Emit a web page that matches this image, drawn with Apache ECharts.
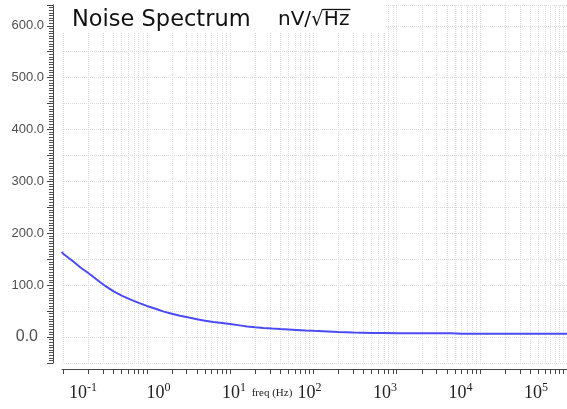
<!DOCTYPE html>
<html>
<head>
<meta charset="utf-8">
<script src="https://cdn.jsdelivr.net/npm/echarts@6/dist/echarts.min.js"></script>
<style>
html,body{margin:0;padding:0;background:#fff;}
#chart{width:567px;height:409px;}
</style>
</head>
<body>
<div id="chart"></div>
<script>
// ---- data ----
var freqHz = [0.095, 0.1, 0.13, 0.16, 0.2, 0.25, 0.32, 0.4, 0.5, 0.63, 0.8, 1, 1.3, 1.6, 2, 2.5, 3.2, 4, 5, 6.3, 8, 10, 13, 16, 20, 25, 32, 40, 50, 63, 80, 100, 150, 200, 300, 500, 700, 1000, 1500, 2000, 3000, 4500, 6000, 10000, 20000, 50000, 100000, 120000];
var noiseValues = [164, 160, 146, 134, 123, 111, 98, 88, 80, 72.5, 66, 60, 54, 49, 45, 41, 37.5, 34.5, 31.5, 29, 27, 25, 22.5, 20.5, 18.9, 17.6, 16.4, 15.5, 14.7, 13.8, 12.8, 12, 10.8, 9.8, 8.6, 7.9, 7.6, 7.2, 7.4, 7.3, 7.5, 7.4, 6.5, 6.4, 6.3, 6.3, 6.3, 6.3];
var decadeExponents = [-1, 0, 1, 2, 3, 4, 5];
var minorMultipliers = [1, 2, 3, 4, 5, 6, 7, 8, 9];
var yLabelValues = [0, 100, 200, 300, 400, 500, 600];
var titleText = 'Noise Spectrum';
var unitPrefix = 'nV/\u221A';
var unitRadicand = 'Hz';
var xAxisName = 'freq (Hz)';

// ---- derived ----
var seriesData = freqHz.map(function (f, i) { return [Math.log10(f), noiseValues[i]]; });
var tickValues = [];
decadeExponents.forEach(function (e) {
  minorMultipliers.forEach(function (m) {
    tickValues.push(Math.log10(m) + e);
  });
});

// measure unit text for the radical's overline
var unitFont = '20px "DejaVu Sans"';
var mctx = document.createElement('canvas').getContext('2d');
mctx.font = unitFont;
var unitX = 278;
var prefixW = mctx.measureText(unitPrefix).width;
var radW = mctx.measureText(unitRadicand).width;

var chart = echarts.init(document.getElementById('chart'), null, {renderer: 'canvas'});
var option = {
  backgroundColor: '#ffffff',
  animation: false,
  grid: {left: 62, right: 0, top: 5, bottom: 46, containLabel: false},
  xAxis: [{
    type: 'value',
    min: -1.018,
    max: 5.044,
    position: 'bottom',
    offset: 6,
    axisLine: {show: true, onZero: false, lineStyle: {color: '#444', width: 1}},
    axisTick: {show: true, length: 5, customValues: tickValues, lineStyle: {color: '#444'}},
    axisLabel: {show: false},
    splitLine: {show: true, lineStyle: {color: '#dcdcdc', type: 'dotted', width: 1}}
  }, {
    type: 'value',
    min: -1.278,
    max: 5.411,
    position: 'bottom',
    offset: 6,
    axisLine: {show: false, onZero: false},
    axisTick: {show: false},
    splitLine: {show: false},
    axisLabel: {
      show: true,
      customValues: decadeExponents,
      margin: 13,
      formatter: function (v) { return '{b|10}{s|' + Math.round(v) + '}'; },
      rich: {
        b: {fontFamily: 'Liberation Serif', fontSize: 18, color: '#222', lineHeight: 20, verticalAlign: 'bottom'},
        s: {fontFamily: 'Liberation Serif', fontSize: 12, color: '#222', lineHeight: 20, verticalAlign: 'top', padding: [0, 0, 8, 0]}
      }
    }
  }],
  yAxis: {
    type: 'value',
    min: -50,
    max: 640,
    interval: 50,
    position: 'left',
    offset: 9,
    axisLine: {show: true, onZero: false, lineStyle: {color: '#444', width: 1}},
    axisTick: {show: true, length: 6, lineStyle: {color: '#444'}},
    minorTick: {show: true, splitNumber: 10, length: 4, lineStyle: {color: '#555'}},
    splitLine: {show: true, lineStyle: {color: '#dcdcdc', type: 'dotted', width: 1}},
    axisLabel: {
      margin: 9,
      color: '#4f4f4f',
      fontFamily: 'Liberation Sans',
      fontSize: 13,
      formatter: function (v) {
        if (yLabelValues.indexOf(v) < 0) return '';
        if (v === 0) return '{z|0.0}';
        return v.toFixed(1);
      },
      rich: {
        z: {fontFamily: 'Liberation Sans', fontSize: 16, color: '#4f4f4f', padding: [0, 6, 0, 0]}
      }
    }
  },
  graphic: [
    {type: 'rect', z: 50, shape: {x: 62, y: 0, width: 323, height: 33}, style: {fill: '#ffffff'}},
    {type: 'text', z: 51, x: 72, y: 20, style: {text: titleText, fontFamily: 'DejaVu Sans', fontSize: 22.5, fill: '#111', textVerticalAlign: 'middle'}},
    {type: 'text', z: 51, x: unitX, y: 20, style: {text: unitPrefix + unitRadicand, fontFamily: 'DejaVu Sans', fontSize: 20, fill: '#111', textVerticalAlign: 'middle'}},
    {type: 'line', z: 51, shape: {x1: unitX + prefixW - 1, y1: 9.5, x2: unitX + prefixW + radW + 1, y2: 9.5}, style: {stroke: '#111', lineWidth: 1.3}},
    {type: 'text', z: 51, x: 272, y: 393, style: {text: xAxisName, fontFamily: 'Liberation Serif', fontSize: 11, fill: '#222', textAlign: 'center', textVerticalAlign: 'middle'}}
  ],
  series: [{
    type: 'line',
    xAxisIndex: 0,
    data: seriesData,
    showSymbol: false,
    smooth: false,
    clip: true,
    lineStyle: {color: '#4b4bf5', width: 2}
  }]
};
chart.setOption(option);
</script>
</body>
</html>
